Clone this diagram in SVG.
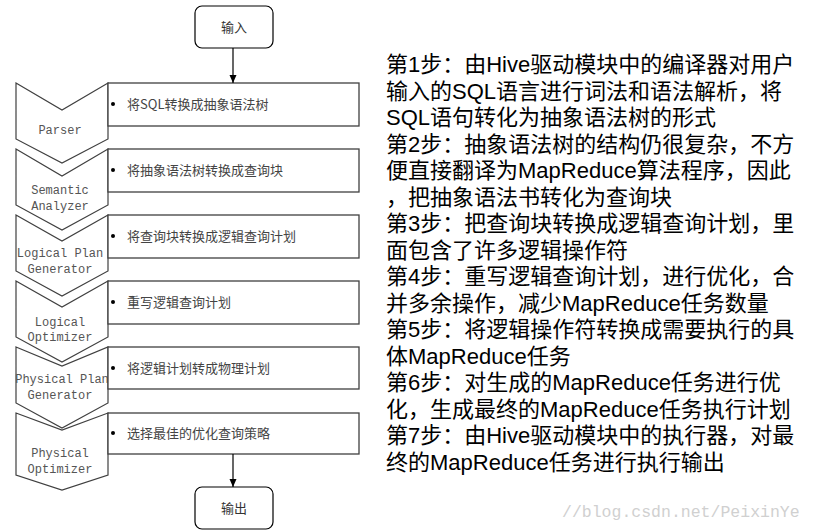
<svg xmlns="http://www.w3.org/2000/svg" width="813" height="531" viewBox="0 0 813 531">
<defs>
<marker id="ah" viewBox="0 0 8 8" refX="8" refY="4" markerWidth="8" markerHeight="8" markerUnits="userSpaceOnUse" orient="auto">
<path d="M0,0.5 L8,4 L0,7.5 Z" fill="#000"/>
</marker>
<style>
.chev{fill:#fff;stroke:#404040;stroke-width:1.2}
.box{fill:#fff;stroke:#404040;stroke-width:1.3}
.term{fill:#fff;stroke:#000;stroke-width:1.2}
.ct{font-family:"Liberation Mono","DejaVu Sans Mono",monospace;font-size:12px;fill:#555;text-anchor:middle}
.bt{font-family:"Noto Sans CJK SC","Noto Sans CJK JP",sans-serif;font-size:13px;fill:#444}
.tt{font-family:"Noto Sans CJK SC",sans-serif;font-size:13px;fill:#333;text-anchor:middle}
.rt{font-family:"Liberation Sans","Noto Sans CJK SC",sans-serif;font-size:22px;fill:#000}
.wm{font-family:"Liberation Mono",monospace;font-size:16.5px;fill:#d0d0d0}
.cn{stroke:#000;stroke-width:1.2;fill:none}
</style>
</defs>
<rect width="813" height="531" fill="#fff"/>

<g id="input">
<rect class="term" x="195" y="6" width="78" height="42" rx="7"/>
<text class="tt" x="234" y="32">输入</text>
</g>

<g id="parser">
<path class="chev" d="M16,83 L62,110 L108,83 L108,139 L62,163 L16,139 Z"/>
<text class="ct" x="60" y="134">Parser</text>
</g>
<g id="semantic">
<path class="chev" d="M16,149 L62,176 L108,149 L108,205 L62,230 L16,205 Z"/>
<text class="ct" x="60" y="194">Semantic</text>
<text class="ct" x="60" y="210">Analyzer</text>
</g>
<g id="logicalplan">
<path class="chev" d="M16,215 L62,241 L108,215 L108,271 L62,296 L16,271 Z"/>
<text class="ct" x="60" y="257">Logical Plan</text>
<text class="ct" x="60" y="273">Generator</text>
</g>
<g id="logicalopt">
<path class="chev" d="M16,281 L62,307 L108,281 L108,337 L62,362 L16,337 Z"/>
<text class="ct" x="60" y="326">Logical</text>
<text class="ct" x="60" y="341">Optimizer</text>
</g>
<g id="physicalplan">
<path class="chev" d="M16,347 L62,366 L108,347 L108,403 L62,428 L16,403 Z"/>
<text class="ct" x="62" y="383">Physical Plan</text>
<text class="ct" x="60" y="399">Generator</text>
</g>
<g id="physicalopt">
<path class="chev" d="M16,413 L62,430 L108,413 L108,475 L62,490 L16,475 Z"/>
<text class="ct" x="60" y="457">Physical</text>
<text class="ct" x="60" y="473">Optimizer</text>
</g>

<g id="step1">
<rect class="box" x="108" y="83" width="251" height="43"/>
<circle cx="113" cy="104" r="2" fill="#000"/>
<text class="bt" x="127" y="109">将SQL转换成抽象语法树</text>
</g>
<g id="step2">
<rect class="box" x="108" y="149" width="251" height="43"/>
<circle cx="113" cy="170" r="2" fill="#000"/>
<text class="bt" x="127" y="175">将抽象语法树转换成查询块</text>
</g>
<g id="step3">
<rect class="box" x="108" y="215" width="251" height="43"/>
<circle cx="113" cy="236" r="2" fill="#000"/>
<text class="bt" x="127" y="241">将查询块转换成逻辑查询计划</text>
</g>
<g id="step4">
<rect class="box" x="108" y="281" width="251" height="43"/>
<circle cx="113" cy="302" r="2" fill="#000"/>
<text class="bt" x="127" y="307">重写逻辑查询计划</text>
</g>
<g id="step5">
<rect class="box" x="108" y="347" width="251" height="42"/>
<circle cx="113" cy="368" r="2" fill="#000"/>
<text class="bt" x="127" y="373">将逻辑计划转成物理计划</text>
</g>
<g id="step6">
<rect class="box" x="108" y="413" width="251" height="41"/>
<circle cx="113" cy="433" r="2" fill="#000"/>
<text class="bt" x="127" y="438">选择最佳的优化查询策略</text>
</g>

<g id="output">
<rect class="term" x="195" y="487" width="78" height="42" rx="7"/>
<text class="tt" x="234" y="513">输出</text>
</g>

<g id="connectors">
<line class="cn" x1="233" y1="48" x2="233" y2="83" marker-end="url(#ah)"/>
<line class="cn" x1="233" y1="454" x2="233" y2="487" marker-end="url(#ah)"/>
</g>

<g id="description">
<text class="rt" x="386" y="72">第1步：由Hive驱动模块中的编译器对用户</text>
<text class="rt" x="386" y="98.5">输入的SQL语言进行词法和语法解析，将</text>
<text class="rt" x="386" y="125">SQL语句转化为抽象语法树的形式</text>
<text class="rt" x="386" y="151.5">第2步：抽象语法树的结构仍很复杂，不方</text>
<text class="rt" x="386" y="178">便直接翻译为MapReduce算法程序，因此</text>
<text class="rt" x="386" y="204.5">，把抽象语法书转化为查询块</text>
<text class="rt" x="386" y="231">第3步：把查询块转换成逻辑查询计划，里</text>
<text class="rt" x="386" y="257.5">面包含了许多逻辑操作符</text>
<text class="rt" x="386" y="284">第4步：重写逻辑查询计划，进行优化，合</text>
<text class="rt" x="386" y="310.5">并多余操作，减少MapReduce任务数量</text>
<text class="rt" x="386" y="337">第5步：将逻辑操作符转换成需要执行的具</text>
<text class="rt" x="386" y="363.5">体MapReduce任务</text>
<text class="rt" x="386" y="390">第6步：对生成的MapReduce任务进行优</text>
<text class="rt" x="386" y="416.5">化，生成最终的MapReduce任务执行计划</text>
<text class="rt" x="386" y="443">第7步：由Hive驱动模块中的执行器，对最</text>
<text class="rt" x="386" y="469.5">终的MapReduce任务进行执行输出</text>
</g>
<text class="wm" x="562" y="517">//blog.csdn.net/PeixinYe</text>
</svg>
